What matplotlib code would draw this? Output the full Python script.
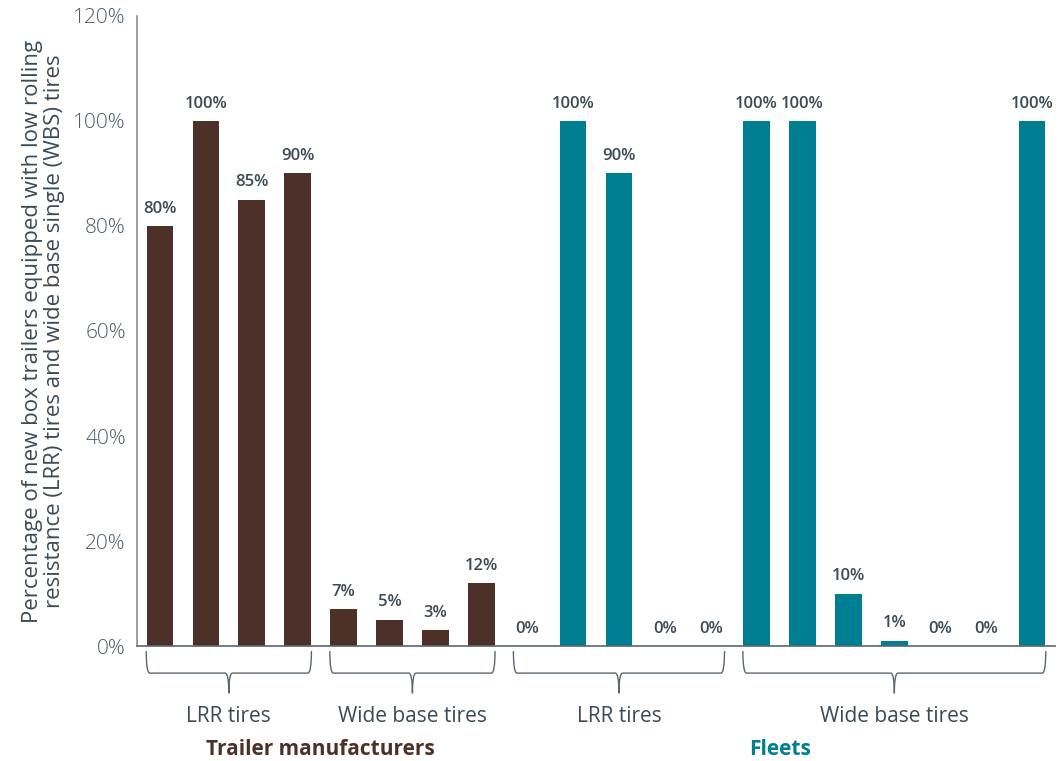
import matplotlib
matplotlib.use("Agg")
import matplotlib.pyplot as plt
from matplotlib.path import Path
from matplotlib.patches import PathPatch
import matplotlib.transforms as mtransforms

plt.rcParams['font.family'] = ['Open Sans', 'DejaVu Sans']

# values in percent, left to right
tm_lrr = [80, 100, 85, 90]
tm_wbs = [7, 5, 3, 12]
fl_lrr = [0, 100, 90, 0, 0]
fl_wbs = [100, 100, 10, 1, 0, 0, 100]

sub_labels = ["LRR tires", "Wide base tires", "LRR tires", "Wide base tires"]
group_labels = ["Trailer manufacturers", "Fleets"]
yticks = [0, 20, 40, 60, 80, 100, 120]

brown = "#4d3128"
teal = "#007e92"
txt = "#3c4a55"

groups = [tm_lrr, tm_wbs, fl_lrr, fl_wbs]
colors = [brown, brown, teal, teal]

fig = plt.figure(figsize=(10.59, 7.61), dpi=100)
ax = fig.add_axes([0.1294, 0.1511, 0.8668, 0.8279])

pos = 0
spans = []
for vals, c in zip(groups, colors):
    xs = list(range(pos, pos + len(vals)))
    ax.bar(xs, vals, width=0.58, color=c, zorder=2)
    for x, v in zip(xs, vals):
        ax.text(x, v + 1.8, f"{v}%", ha="center", va="bottom", fontsize=12,
                color=txt, fontweight="semibold")
    spans.append((xs[0], xs[-1]))
    pos += len(vals)

ax.set_xlim(-0.5, pos - 0.5)
ax.set_ylim(0, 120)
ax.set_yticks(yticks)
ax.set_yticklabels([f"{t}%" for t in yticks], fontsize=15, color="#4f5c66", fontweight="light")
ax.tick_params(axis="y", length=0, pad=8)
ax.set_xticks([])
for s in ["top", "right"]:
    ax.spines[s].set_visible(False)
ax.spines["left"].set_color("#8a8f94")
ax.spines["bottom"].set_color("#5a6670")
ax.spines["left"].set_linewidth(1.2)
ax.spines["bottom"].set_linewidth(1.2)
ax.set_ylabel("Percentage of new box trailers equipped with low rolling\n"
              "resistance (LRR) tires and wide base single (WBS) tires",
              fontsize=16, color=txt, labelpad=6, linespacing=1.05)

# curly braces under each group
tr = mtransforms.blended_transform_factory(ax.transData, ax.transAxes)
top, mid, tip = -0.008, -0.043, -0.075
r = 0.08
for (a, b) in spans:
    x0, x1 = a - 0.3, b + 0.3
    xc = (x0 + x1) / 2
    verts = [(x0, top), (x0, mid), (x0 + r, mid),
             (xc - r, mid), (xc, mid), (xc, tip),
             (xc, mid), (xc + r, mid),
             (x1 - r, mid), (x1, mid), (x1, top)]
    codes = [Path.MOVETO, Path.CURVE3, Path.CURVE3,
             Path.LINETO, Path.CURVE3, Path.CURVE3,
             Path.CURVE3, Path.CURVE3,
             Path.LINETO, Path.CURVE3, Path.CURVE3]
    ax.add_patch(PathPatch(Path(verts, codes), transform=tr, fill=False,
                           edgecolor="#5a6670", lw=1.0, clip_on=False))

for (a, b), lab in zip(spans, sub_labels):
    ax.text((a + b) / 2, -0.112, lab, transform=tr, ha="center", va="center",
            fontsize=15, color=txt, clip_on=False)

ax.text((spans[0][0] + spans[1][1]) / 2, -0.165, group_labels[0], transform=tr,
        ha="center", va="center", fontsize=15, color=brown, fontweight="bold")
ax.text((spans[2][0] + spans[3][1]) / 2, -0.165, group_labels[1], transform=tr,
        ha="center", va="center", fontsize=15, color=teal, fontweight="bold")

fig.savefig("out.png", dpi=100)
